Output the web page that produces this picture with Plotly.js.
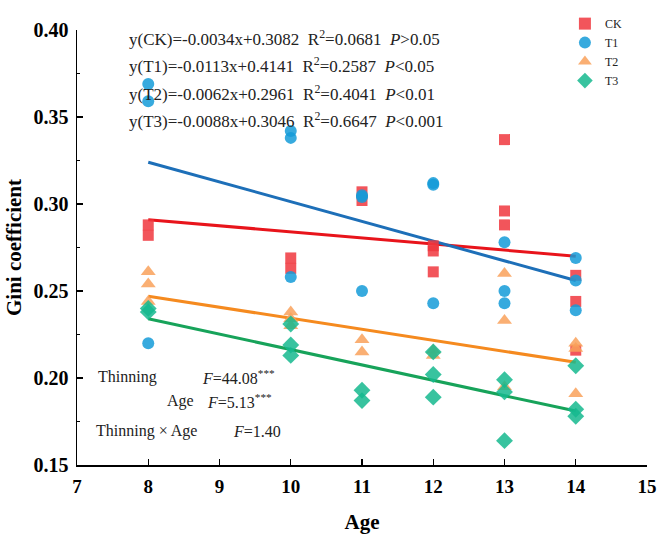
<!DOCTYPE html>
<html>
<head>
<meta charset="utf-8">
<script src="https://cdn.plot.ly/plotly-3.0.1.min.js"></script>
<style>html,body{margin:0;padding:0;background:#fff}</style>
</head>
<body>
<div id="chart" style="width:661px;height:537px"></div>
<script>
// ---- data ----
const ckAge = [8, 8, 10, 10, 11, 11, 12, 12, 12, 13, 13, 13, 14, 14, 14];
const ckGini = [0.288, 0.282, 0.269, 0.263, 0.307, 0.302, 0.276, 0.273, 0.261, 0.337, 0.296, 0.288, 0.259, 0.244, 0.216];

const t1Age = [8, 8, 8, 10, 10, 10, 11, 11, 11, 12, 12, 12, 13, 13, 13, 14, 14, 14];
const t1Gini = [0.369, 0.359, 0.220, 0.342, 0.338, 0.258, 0.305, 0.304, 0.250, 0.312, 0.311, 0.243, 0.278, 0.250, 0.243, 0.269, 0.256, 0.239];

const t2Age = [8, 8, 8, 10, 10, 10, 11, 11, 12, 12, 13, 13, 13, 14, 14, 14];
const t2Gini = [0.261, 0.254, 0.244, 0.238, 0.234, 0.230, 0.222, 0.215, 0.216, 0.213, 0.260, 0.233, 0.195, 0.220, 0.217, 0.191];

const t3Age = [8, 8, 10, 10, 10, 11, 11, 12, 12, 12, 13, 13, 13, 14, 14, 14];
const t3Gini = [0.240, 0.238, 0.231, 0.219, 0.213, 0.193, 0.187, 0.215, 0.202, 0.189, 0.199, 0.192, 0.164, 0.207, 0.182, 0.178];

// fitted line end points (as drawn)
const fitAge = [8, 14];
const ckFit = [0.291, 0.270];
const t1Fit = [0.324, 0.256];
const t2Fit = [0.247, 0.209];
const t3Fit = [0.234, 0.181];

const groupNames = ['CK', 'T1', 'T2', 'T3'];
const equations = [
  'y(CK)=-0.0034x+0.3082  R<sup>2</sup>=0.0681  <i>P</i>>0.05',
  'y(T1)=-0.0113x+0.4141  R<sup>2</sup>=0.2587  <i>P</i><0.05',
  'y(T2)=-0.0062x+0.2961  R<sup>2</sup>=0.4041  <i>P</i><0.01',
  'y(T3)=-0.0088x+0.3046  R<sup>2</sup>=0.6647  <i>P</i><0.001'
];
const effectNames = ['Thinning', 'Age', 'Thinning × Age'];
const effectF = ['<i>F</i>=44.08<sup>***</sup>', '<i>F</i>=5.13<sup>***</sup>', '<i>F</i>=1.40'];

const xTicks = [7, 8, 9, 10, 11, 12, 13, 14, 15];
const yTicks = [0.15, 0.20, 0.25, 0.30, 0.35, 0.40];

// ---- styling ----
const serif = 'Liberation Serif, Times New Roman, serif';
const markerCol = ['#F0373E', '#149BD8', '#F9A15A', '#15B88E'];
const lineCol = ['#E8141B', '#1D6FB8', '#F58A1F', '#17A35A'];
const symbols = ['square', 'circle', 'triangle-up', 'diamond'];
const msize = [11, 12, 13, 13];

const fits = [ckFit, t1Fit, t2Fit, t3Fit];
const ages = [ckAge, t1Age, t2Age, t3Age];
const ginis = [ckGini, t1Gini, t2Gini, t3Gini];

const traces = [];
fits.forEach((f, i) => traces.push({
  x: fitAge, y: f, mode: 'lines', type: 'scatter', showlegend: false,
  line: {color: lineCol[i], width: 3}, hoverinfo: 'skip'
}));
ginis.forEach((g, i) => traces.push({
  x: ages[i], y: g, mode: 'markers', type: 'scatter', name: groupNames[i],
  marker: {symbol: symbols[i], size: msize[i], color: markerCol[i], opacity: 0.85, line: {width: 0}}
}));

const annotations = [];
const eqY = [0.3955, 0.3800, 0.3640, 0.3485];
equations.forEach((t, i) => annotations.push({
  x: 7.70, y: eqY[i], xref: 'x', yref: 'y', text: t, showarrow: false,
  xanchor: 'left', yanchor: 'middle', font: {family: serif, size: 17, color: '#222'}
}));
const effY = [0.2005, 0.1865, 0.1695];
const effNameX = [7.27, 8.24, 7.24];
const effFX = [8.73, 8.80, 9.16];
effectNames.forEach((t, i) => {
  annotations.push({x: effNameX[i], y: effY[i], xref: 'x', yref: 'y', text: t, showarrow: false,
    xanchor: 'left', yanchor: 'middle', font: {family: serif, size: 16, color: '#222'}});
  annotations.push({x: effFX[i], y: effY[i], xref: 'x', yref: 'y', text: effectF[i], showarrow: false,
    xanchor: 'left', yanchor: 'middle', font: {family: serif, size: 16, color: '#222'}});
});

const layout = {
  width: 661, height: 537,
  margin: {l: 77, r: 14, t: 9, b: 72},
  paper_bgcolor: '#fff', plot_bgcolor: '#fff',
  showlegend: true,
  legend: {x: 0.856, y: 1.048, xanchor: 'left', yanchor: 'top', bgcolor: 'rgba(0,0,0,0)',
    font: {family: serif, size: 12, color: '#222'}, itemsizing: 'constant'},
  xaxis: {
    range: [7, 15], tickvals: xTicks, ticktext: xTicks.map(String),
    ticks: 'inside', ticklen: 6, tickwidth: 1.3, tickcolor: '#000',
    showline: true, linecolor: '#000', linewidth: 1.5, showgrid: false, zeroline: false,
    ticklabelstandoff: 4,
    tickfont: {family: serif, size: 19, color: '#000', weight: 'bold'},
    title: {text: 'Age', font: {family: serif, size: 21, color: '#000', weight: 'bold'}, standoff: 18}
  },
  yaxis: {
    range: [0.15, 0.40], tickvals: yTicks, ticktext: yTicks.map(v => v.toFixed(2)),
    ticks: 'inside', ticklen: 6, tickwidth: 1.3, tickcolor: '#000',
    minor: {dtick: 0.025, ticks: 'inside', ticklen: 3, tickcolor: '#000', showgrid: false},
    showline: true, linecolor: '#000', linewidth: 1.5, showgrid: false, zeroline: false,
    ticklabelstandoff: 3,
    tickfont: {family: serif, size: 20, color: '#000', weight: 'bold'},
    title: {text: 'Gini coefficient', font: {family: serif, size: 21, color: '#000', weight: 'bold'}, standoff: 6}
  },
  annotations: annotations
};

Plotly.newPlot('chart', traces, layout, {displayModeBar: false, staticPlot: true});
</script>
</body>
</html>
